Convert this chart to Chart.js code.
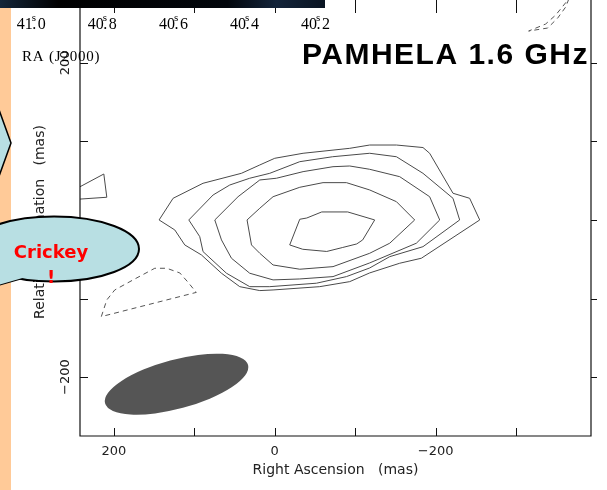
<!DOCTYPE html>
<html>
<head>
<meta charset="utf-8">
<script src="https://cdn.jsdelivr.net/npm/chart.js@4.4.0/dist/chart.umd.min.js"></script>
<style>
  html, body { margin: 0; padding: 0; background: #fff; }
  canvas { display: block; }
</style>
</head>
<body>
<canvas id="map" width="607" height="490"></canvas>
<script>
// contour vertices, [RA offset, Dec offset] in mas
const contour1 = [[143.7,0],[126.3,27.6],[89.1,46.7],[41.4,59.4],[18.6,70.0],[0,78.5],[-35.2,84.9],[-93.2,91.2],
  [-118.0,95.4],[-151.2,95.4],[-184.2,92.2],[-192.5,84.9],[-221.5,34.0],[-242.2,27.6],[-254.7,0],[-182.2,-48.7],
  [-155.3,-55.1],[-118.0,-67.4],[-93.2,-78.5],[-55.9,-84.9],[2.1,-89.1],[18.6,-89.9],[43.5,-84.9],[66.2,-67.8],
  [91.1,-44.5],[111.8,-31.8],[124.2,-12.7],[143.7,0]];
const contour2 = [[106.8,0],[76.6,31.8],[55.9,44.5],[31.1,53.1],[6.2,59.4],[-31.1,74.2],[-72.0,80.5],[-118.0,84.9],
  [-151.2,80.5],[-184.2,59.4],[-221.5,27.6],[-229.8,0],[-184.2,-34.0],[-142.9,-46.7],[-118.0,-61.1],[-89.1,-72.1],
  [-51.8,-80.5],[6.2,-84.9],[31.1,-84.9],[60.0,-67.8],[89.1,-40.3],[93.2,-21.2],[106.8,0]];
const contour3 = [[74.5,0],[45.6,29.6],[18.6,50.9],[-2.1,53.1],[-35.2,61.5],[-72.4,67.8],[-93.2,68.7],[-118.0,64.5],
  [-155.3,55.1],[-192.5,29.6],[-205.0,0],[-176.0,-29.6],[-118.0,-54.7],[-72.4,-72.1],[-31.1,-75.1],[2.1,-76.3],
  [31.1,-67.8],[53.8,-48.7],[66.2,-25.4],[74.5,0]];
const contour4 = [[34.4,0],[18.6,14.9],[2.1,29.6],[-31.1,41.6],[-60.0,47.5],[-89.1,47.5],[-118.0,38.2],[-151.2,23.3],
  [-173.9,0],[-142.9,-29.6],[-118.0,-42.4],[-72.4,-59.4],[-31.1,-62.7],[2.1,-57.3],[18.6,-42.4],[28.9,-31.8],[34.4,0]];
const contour5 = [[-31.1,0.9],[-39.8,2.5],[-58.4,10.2],[-90.7,10.2],[-124.2,0],[-109.3,-25.4],[-101.9,-30.5],
  [-84.5,-35.0],[-64.6,-40.1],[-34.8,-37.3],[-18.6,-31.8],[-31.1,0.9]];
const contourEdge = [[246,40.1],[212.4,58.5],[208.7,28.9],[246,26.3]];
// negative contours (dashed)
const negLowerLeft = [[215.5,-123.0],[208.7,-101.8],[198.8,-89.1],[173.9,-75.1],[149.1,-61.5],[134.2,-61.5],
  [118.0,-67.4],[108.1,-78.9],[97.5,-92.2],[215.5,-123.0]];
const negTopRight = [[-369,286],[-349.1,260.8],[-336.6,249.4],[-315.5,240.5],[-339.1,244.3],[-351.6,257.0],
  [-361.5,271.0],[-368,288]];

// restoring beam: centre (mas), semi-axes (mas), tilt (deg)
const beamCenter = [122, -209];
const beamAxes = [92, 30.5];
const beamTilt = 15;

// axes
const xTicks = [200, 100, 0, -100, -200, -300];
const xLabels = [200, 0, -200];
const yTicks = [200, 100, 0, -100, -200];
const yLabels = [200, 0, -200];
const raTicks = [41.0, 40.8, 40.6, 40.4, 40.2];

const solid = [contour1, contour2, contour3, contour4, contour5, contourEdge];
const dashed = [negLowerLeft, negTopRight];
const toPts = arr => arr.map(([x, y]) => ({ x, y }));
const fmt = v => (v < 0 ? '\u2212' : '') + Math.abs(v);

const beam = {
  id: 'beam',
  beforeDatasetsDraw(chart) {
    const { ctx, scales: { x, y } } = chart;
    const cx = x.getPixelForValue(beamCenter[0]);
    const cy = y.getPixelForValue(beamCenter[1]);
    const a = Math.abs(x.getPixelForValue(beamCenter[0] + beamAxes[0]) - cx);
    const b = Math.abs(x.getPixelForValue(beamCenter[0] + beamAxes[1]) - cx);
    ctx.save();
    ctx.fillStyle = '#555';
    ctx.beginPath();
    ctx.ellipse(cx, cy, a, b, -beamTilt * Math.PI / 180, 0, Math.PI * 2);
    ctx.fill();
    ctx.restore();
  }
};

const frame = {
  id: 'frame',
  afterDraw(chart) {
    const { ctx, chartArea: area, scales: { x, y, ra } } = chart;
    ctx.save();
    ctx.strokeStyle = '#111';
    ctx.lineWidth = 1.2;
    ctx.beginPath();
    ctx.moveTo(area.left, area.top);
    ctx.lineTo(area.left, area.bottom);
    ctx.lineTo(area.right, area.bottom);
    ctx.lineTo(area.right, area.top);
    ctx.stroke();

    ctx.lineWidth = 1;
    ctx.beginPath();
    xTicks.forEach(v => {
      const px = Math.round(x.getPixelForValue(v)) + 0.5;
      ctx.moveTo(px, area.bottom); ctx.lineTo(px, area.bottom - 8);
      ctx.moveTo(px, area.top); ctx.lineTo(px, area.top + 13);
    });
    yTicks.forEach(v => {
      const py = Math.round(y.getPixelForValue(v)) + 0.5;
      ctx.moveTo(area.left, py); ctx.lineTo(area.left + 8, py);
      ctx.moveTo(area.right, py); ctx.lineTo(area.right + 6, py);
    });
    ctx.stroke();

    ctx.fillStyle = '#222';
    ctx.font = '13px "DejaVu Sans"';
    ctx.textAlign = 'center';
    ctx.textBaseline = 'alphabetic';
    xLabels.forEach(v => ctx.fillText(fmt(v), x.getPixelForValue(v), 455));
    yLabels.forEach(v => {
      ctx.save();
      ctx.translate(69, y.getPixelForValue(v));
      ctx.rotate(-Math.PI / 2);
      ctx.fillText(fmt(v), 0, 0);
      ctx.restore();
    });

    ctx.font = '14px "DejaVu Sans"';
    ctx.fillText('Right Ascension   (mas)', (area.left + area.right) / 2, 474);
    ctx.save();
    ctx.translate(43.5, 222);
    ctx.rotate(-Math.PI / 2);
    ctx.fillText('Relative Declination   (mas)', 0, 0);
    ctx.restore();

    // page decorations
    ctx.fillStyle = '#ffca98';
    ctx.fillRect(0, 8, 11, 482);
    const g = ctx.createLinearGradient(0, 0, 325, 0);
    g.addColorStop(0, '#14263a');
    g.addColorStop(0.18, '#000');
    g.addColorStop(0.7, '#02060c');
    g.addColorStop(0.85, '#13243a');
    g.addColorStop(1, '#0a1422');
    ctx.fillStyle = g;
    ctx.fillRect(0, 0, 325, 8);

    // RA labels on top
    ctx.fillStyle = '#000';
    ctx.textAlign = 'left';
    raTicks.forEach(v => {
      const whole = String(Math.floor(v + 1e-6));
      const frac = String(Math.round((v - Math.floor(v + 1e-6)) * 10));
      ctx.font = '16px "Liberation Serif"';
      const ww = ctx.measureText(whole).width;
      const wf = ctx.measureText(frac).width;
      const ws = 5;
      const cx = ra.getPixelForValue(v);
      const sx = cx - (ww + ws + wf) / 2;
      ctx.fillText(whole, sx, 29);
      ctx.fillText('.', sx + ww - 0.5, 29);
      ctx.fillText(frac, sx + ww + ws, 29);
      ctx.font = '11px "Liberation Serif"';
      ctx.fillText('s', sx + ww - 1, 21);
    });
    ctx.font = '15px "Liberation Serif"';
    ctx.letterSpacing = '0.8px';
    ctx.fillText('RA (J2000)', 22, 61);

    // title
    ctx.font = 'bold 30px "Liberation Sans"';
    ctx.letterSpacing = '1.5px';
    ctx.fillText('PAMHELA 1.6 GHz', 302, 64);
    ctx.letterSpacing = '0px';

    // callouts
    ctx.fillStyle = '#b8dfe3';
    ctx.strokeStyle = '#000';
    ctx.lineWidth = 1.5;
    ctx.beginPath();
    ctx.moveTo(-2, 107); ctx.lineTo(11, 143); ctx.lineTo(-2, 179);
    ctx.closePath();
    ctx.fill(); ctx.stroke();

    ctx.lineWidth = 2;
    const tail = () => {
      ctx.beginPath();
      ctx.moveTo(26, 277); ctx.lineTo(-12, 288); ctx.lineTo(-6, 268);
      ctx.closePath();
    };
    tail(); ctx.fill(); ctx.stroke();
    ctx.beginPath();
    ctx.ellipse(54, 249, 85, 32.5, 0, 0, Math.PI * 2);
    ctx.fill(); ctx.stroke();
    tail(); ctx.fill();

    ctx.fillStyle = '#ff0000';
    ctx.font = 'bold 18px "DejaVu Sans"';
    ctx.textAlign = 'center';
    ctx.fillText('Crickey', 51, 258);
    ctx.fillText('!', 51, 283);
    ctx.restore();
  }
};

const datasets = [
  ...solid.map(c => ({ data: toPts(c), showLine: true, borderColor: '#4a4a4a', borderWidth: 1,
    pointRadius: 0, fill: false, tension: 0 })),
  ...dashed.map(c => ({ data: toPts(c), showLine: true, borderColor: '#555', borderWidth: 1,
    borderDash: [5, 4], pointRadius: 0, fill: false, tension: 0 }))
];

new Chart(document.getElementById('map'), {
  type: 'scatter',
  data: { datasets },
  options: {
    responsive: false,
    animation: false,
    events: [],
    layout: { padding: { left: 80, right: 16, top: 0, bottom: 54 } },
    plugins: { legend: { display: false }, tooltip: { enabled: false } },
    scales: {
      x: { type: 'linear', min: -393, max: 242, reverse: true, display: false },
      y: { type: 'linear', min: -275, max: 280, display: false },
      ra: { type: 'linear', axis: 'x', position: 'top', min: 39.4244, max: 40.8629, reverse: true, display: false }
    }
  },
  plugins: [beam, frame]
});
</script>
</body>
</html>
